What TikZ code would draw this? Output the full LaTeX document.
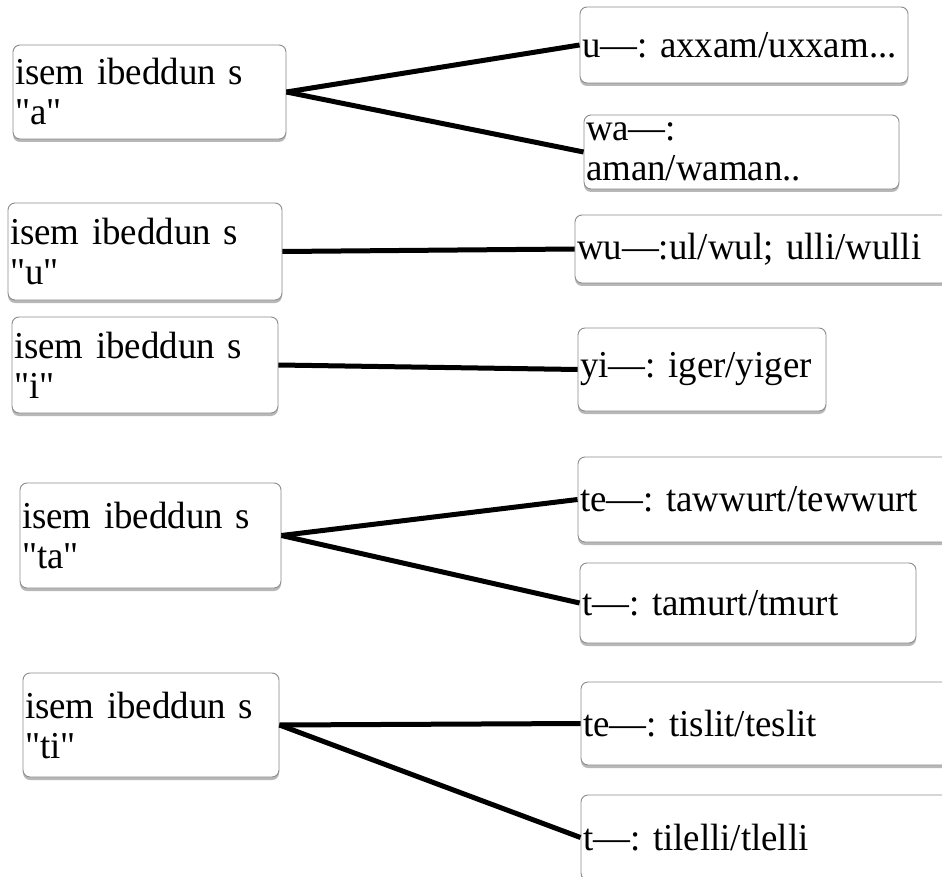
\documentclass[tikz,border=0pt]{standalone}
\usepackage{fontspec}
\setmainfont{Liberation Serif}[Ligatures=TeXOff, FakeStretch=0.97]
\usetikzlibrary{shadows}

\begin{document}
\begin{tikzpicture}[x=1pt, y=-1pt,
  box/.style={draw=black!45, line width=0.9pt, fill=white, rounded corners=7pt,
    drop shadow={shadow xshift=0pt, shadow yshift=-3pt, fill=black!55, opacity=0.5},
    inner xsep=2pt, inner ysep=0pt, align=left,
    font=\fontsize{38}{40}\selectfont\frenchspacing},
  link/.style={line width=5pt, black}]

\useasboundingbox (0,0) rectangle (942,877);
\fill[white] (0,0) rectangle (942,877);
\clip (0,0) rectangle (942,877);

% box(name, center x, center y, width, height, text)
\newcommand{\kbox}[6]{%
  \node[box, minimum width=#4pt, minimum height=#5pt, text width=#4pt-4pt]
    (#1) at (#2,#3) {#6};}

% left-hand nouns
\kbox{na}{149.5}{92}{273}{94}{isem ibeddun s\\"a"}
\kbox{nu}{145}{251.5}{274}{97}{isem ibeddun s\\"u"}
\kbox{ni}{145}{365}{266}{96}{isem ibeddun s\\"i"}
\kbox{nta}{150.5}{535.5}{261}{105}{isem ibeddun s\\"ta"}
\kbox{nti}{151}{725}{256}{104}{isem ibeddun s\\"ti"}

% right-hand forms
\kbox{ra1}{744}{45}{328}{76}{u—: axxam/uxxam...}
\kbox{ra2}{741.5}{152}{315}{74}{wa—:\\aman/waman..}
\kbox{ru}{762.5}{249}{375}{68}{wu—:ul/wul; ulli/wulli}
\kbox{ri}{702}{369.5}{248}{83}{yi—: iger/yiger}
\kbox{rta1}{764}{499.5}{372}{85}{te—: tawwurt/tewwurt}
\kbox{rta2}{748}{603}{336}{80}{t—: tamurt/tmurt}
\kbox{rti1}{765.5}{723.5}{369}{83}{te—: tislit/teslit}
\kbox{rti2}{765.5}{837.5}{369}{85}{t—: tilelli/tlelli}

% connectors
\draw[link] (na.east) -- (ra1.west);
\draw[link] (na.east) -- (ra2.west);
\draw[link] (nu.east) -- (ru.west);
\draw[link] (ni.east) -- (ri.west);
\draw[link] (nta.east) -- (rta1.west);
\draw[link] (nta.east) -- (rta2.west);
\draw[link] (nti.east) -- (rti1.west);
\draw[link] (nti.east) -- (rti2.west);
\end{tikzpicture}
\end{document}
